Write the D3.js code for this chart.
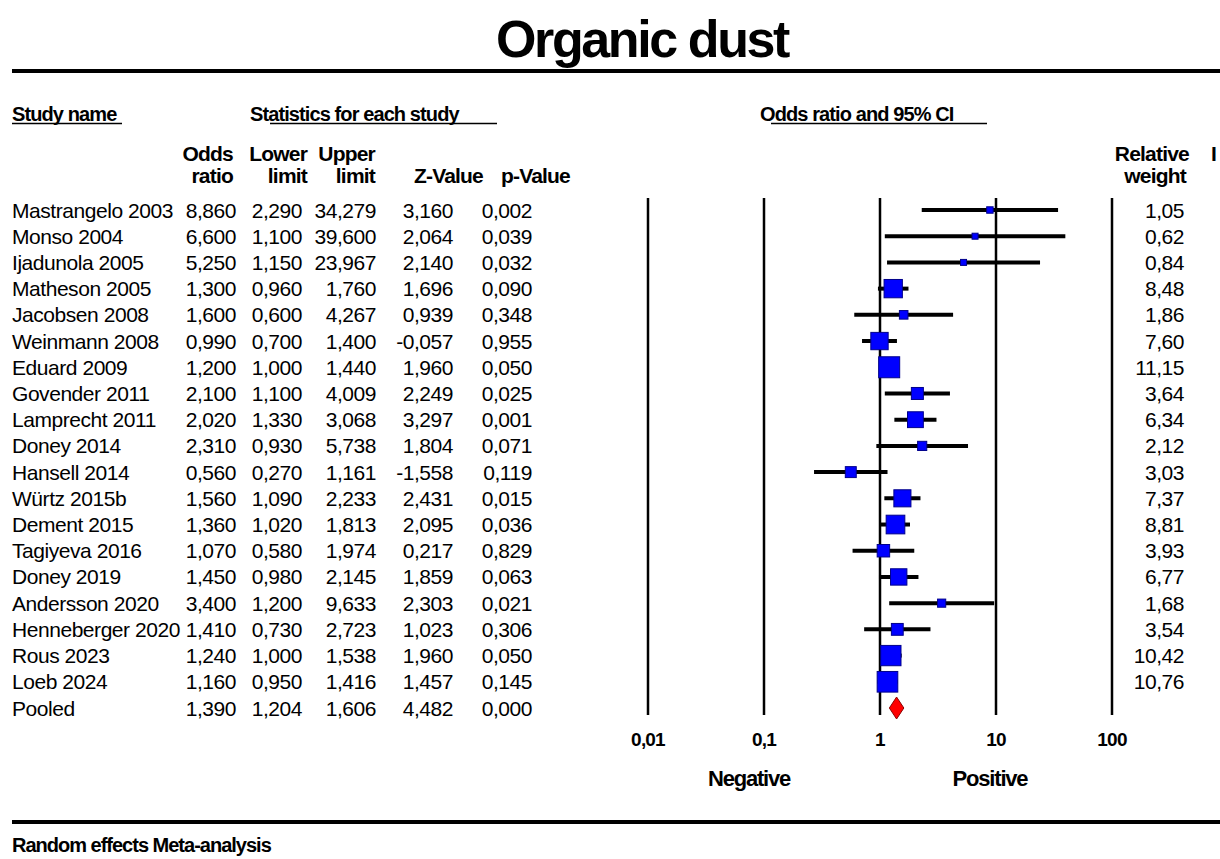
<!DOCTYPE html>
<html>
<head>
<meta charset="utf-8">
<script src="https://cdn.jsdelivr.net/npm/d3@7"></script>
<style>
  body { margin: 0; background: #fff; }
  text { font-family: "Liberation Sans", Arial, sans-serif; fill: #000; }
</style>
</head>
<body>
<svg id="chart" width="1220" height="859"></svg>
<script>
// study data
const studies = ['Mastrangelo 2003', 'Monso 2004', 'Ijadunola 2005', 'Matheson 2005', 'Jacobsen 2008',
	'Weinmann 2008', 'Eduard 2009', 'Govender 2011', 'Lamprecht 2011', 'Doney 2014', 'Hansell 2014',
	'Würtz 2015b', 'Dement 2015', 'Tagiyeva 2016', 'Doney 2019', 'Andersson 2020', 'Henneberger 2020',
	'Rous 2023', 'Loeb 2024'];
const oddsRatio = [8.860, 6.600, 5.250, 1.300, 1.600, 0.990, 1.200, 2.100, 2.020, 2.310, 0.560, 1.560, 1.360, 1.070, 1.450, 3.400, 1.410, 1.240, 1.160];
const lowerLimit = [2.290, 1.100, 1.150, 0.960, 0.600, 0.700, 1.000, 1.100, 1.330, 0.930, 0.270, 1.090, 1.020, 0.580, 0.980, 1.200, 0.730, 1.000, 0.950];
const upperLimit = [34.279, 39.600, 23.967, 1.760, 4.267, 1.400, 1.440, 4.009, 3.068, 5.738, 1.161, 2.233, 1.813, 1.974, 2.145, 9.633, 2.723, 1.538, 1.416];
const zValue = [3.160, 2.064, 2.140, 1.696, 0.939, -0.057, 1.960, 2.249, 3.297, 1.804, -1.558, 2.431, 2.095, 0.217, 1.859, 2.303, 1.023, 1.960, 1.457];
const pValue = [0.002, 0.039, 0.032, 0.090, 0.348, 0.955, 0.050, 0.025, 0.001, 0.071, 0.119, 0.015, 0.036, 0.829, 0.063, 0.021, 0.306, 0.050, 0.145];
const relWeight = [1.05, 0.62, 0.84, 8.48, 1.86, 7.60, 11.15, 3.64, 6.34, 2.12, 3.03, 7.37, 8.81, 3.93, 6.77, 1.68, 3.54, 10.42, 10.76];

const pooled = { name: 'Pooled', or: 1.390, lo: 1.204, hi: 1.606, z: 4.482, p: 0.000 };

const axisTicks = [0.01, 0.1, 1, 10, 100];

const locale = d3.formatLocale({ decimal: ',', thousands: '.', grouping: [3], currency: ['', ''], minus: '-' });
const f3 = locale.format('.3f');
const f2 = locale.format('.2f');
const fTick = v => locale.format('~g')(v);

const svg = d3.select('#chart');

const rows = studies.map((name, i) => ({
	name, or: oddsRatio[i], lo: lowerLimit[i], hi: upperLimit[i], z: zValue[i], p: pValue[i], w: relWeight[i]
}));
const allRows = rows.concat([pooled]);

const y = d3.scalePoint().domain(d3.range(allRows.length)).range([210, 708]);
const x = d3.scaleLog().domain([0.01, 100]).range([648, 1112]);
const side = d3.scaleSqrt().domain([0, d3.max(relWeight)]).range([0, 21]);

const headFont = '21px';
const headSpacing = '-0.8px';

// title + rules
svg.append('text')
	.attr('x', 642).attr('y', 57)
	.attr('text-anchor', 'middle')
	.attr('font-size', '52px').attr('font-weight', 'bold')
	.attr('letter-spacing', '-2.4px')
	.text('Organic dust');

svg.append('line').attr('x1', 12).attr('x2', 1220).attr('y1', 71).attr('y2', 71)
	.attr('stroke', '#000').attr('stroke-width', 4);
svg.append('line').attr('x1', 12).attr('x2', 1220).attr('y1', 822).attr('y2', 822)
	.attr('stroke', '#000').attr('stroke-width', 4);

svg.append('text')
	.attr('x', 12).attr('y', 852)
	.attr('font-size', '20px').attr('font-weight', 'bold')
	.attr('letter-spacing', '-1px')
	.text('Random effects Meta-analysis');

// group headers, underlined
function underlinedHeader(tx, ty, label, ux1, ux2) {
	svg.append('text')
		.attr('x', tx).attr('y', ty)
		.attr('font-size', '20px').attr('font-weight', 'bold')
		.attr('letter-spacing', '-0.9px')
		.text(label);
	svg.append('line')
		.attr('x1', ux1).attr('x2', ux2).attr('y1', ty + 2.5).attr('y2', ty + 2.5)
		.attr('stroke', '#000').attr('stroke-width', 1.5);
}
underlinedHeader(12, 121, 'Study name', 12, 122);
underlinedHeader(250, 121, 'Statistics for each study', 270, 497);
underlinedHeader(760, 121, 'Odds ratio and 95% CI', 771, 987);

// column definitions
const columns = [
	{ h: ['Odds', 'ratio'], x: 236, v: d => f3(d.or) },
	{ h: ['Lower', 'limit'], x: 302, v: d => f3(d.lo) },
	{ h: ['Upper', 'limit'], x: 376, v: d => f3(d.hi) },
	{ h: ['', 'Z-Value'], x: 453, v: d => f3(d.z) },
	{ h: ['', 'p-Value'], x: 532, v: d => f3(d.p) }
];
const headerX = [233, 307, 375, 483, 570];

columns.forEach((c, ci) => {
	const t = svg.append('text')
		.attr('text-anchor', 'end')
		.attr('font-size', headFont).attr('font-weight', 'bold')
		.attr('letter-spacing', headSpacing);
	t.append('tspan').attr('x', headerX[ci]).attr('y', 161).text(c.h[0]);
	t.append('tspan').attr('x', headerX[ci]).attr('y', 183).text(c.h[1]);
});

const rw = svg.append('text')
	.attr('text-anchor', 'end')
	.attr('font-size', headFont).attr('font-weight', 'bold')
	.attr('letter-spacing', headSpacing);
rw.append('tspan').attr('x', 1189).attr('y', 161).text('Relative');
rw.append('tspan').attr('x', 1186).attr('y', 183).text('weight');
svg.append('text')
	.attr('x', 1211).attr('y', 161)
	.attr('font-size', headFont).attr('font-weight', 'bold')
	.text('I');

// table body
const body = svg.append('g').attr('font-size', '21px').attr('letter-spacing', '-0.45px');

body.selectAll('.name')
	.data(allRows)
	.enter().append('text')
	.attr('class', 'name')
	.attr('x', 12)
	.attr('y', (d, i) => y(i) + 7.5)
	.text(d => d.name);

columns.forEach(c => {
	body.selectAll(null)
		.data(allRows)
		.enter().append('text')
		.attr('x', c.x)
		.attr('y', (d, i) => y(i) + 7.5)
		.attr('text-anchor', 'end')
		.text(c.v);
});

body.selectAll('.weight')
	.data(rows)
	.enter().append('text')
	.attr('class', 'weight')
	.attr('x', 1184)
	.attr('y', (d, i) => y(i) + 7.5)
	.attr('text-anchor', 'end')
	.text(d => f2(d.w));

// forest plot grid
svg.append('g').selectAll('line')
	.data(axisTicks)
	.enter().append('line')
	.attr('x1', d => x(d)).attr('x2', d => x(d))
	.attr('y1', 198).attr('y2', 715)
	.attr('stroke', '#000').attr('stroke-width', 2.5);

svg.append('g').selectAll('text')
	.data(axisTicks)
	.enter().append('text')
	.attr('x', d => x(d))
	.attr('y', 746)
	.attr('text-anchor', 'middle')
	.attr('font-size', '19px').attr('font-weight', 'bold')
	.attr('letter-spacing', '-0.8px')
	.text(fTick);

svg.append('text')
	.attr('x', 749).attr('y', 786)
	.attr('text-anchor', 'middle')
	.attr('font-size', '22px').attr('font-weight', 'bold')
	.attr('letter-spacing', '-1.2px')
	.text('Negative');
svg.append('text')
	.attr('x', 990).attr('y', 786)
	.attr('text-anchor', 'middle')
	.attr('font-size', '22px').attr('font-weight', 'bold')
	.attr('letter-spacing', '-1.2px')
	.text('Positive');

// confidence intervals
svg.append('g').selectAll('line')
	.data(rows)
	.enter().append('line')
	.attr('x1', d => x(d.lo)).attr('x2', d => x(d.hi))
	.attr('y1', (d, i) => y(i)).attr('y2', (d, i) => y(i))
	.attr('stroke', '#000').attr('stroke-width', 4);

// weight boxes
svg.append('g').selectAll('rect')
	.data(rows)
	.enter().append('rect')
	.attr('x', d => x(d.or) - Math.max(6, side(d.w)) / 2)
	.attr('y', (d, i) => y(i) - Math.max(6, side(d.w)) / 2)
	.attr('width', d => Math.max(6, side(d.w)))
	.attr('height', d => Math.max(6, side(d.w)))
	.attr('fill', '#0000ff')
	.attr('stroke', '#00008b')
	.attr('stroke-width', 1);

// pooled diamond
const py = y(allRows.length - 1);
svg.append('path')
	.attr('d', `M${x(pooled.lo)},${py} L${x(pooled.or)},${py - 11} L${x(pooled.hi)},${py} L${x(pooled.or)},${py + 11} Z`)
	.attr('fill', '#ff0000')
	.attr('stroke', '#8b0000')
	.attr('stroke-width', 1);
</script>
</body>
</html>
